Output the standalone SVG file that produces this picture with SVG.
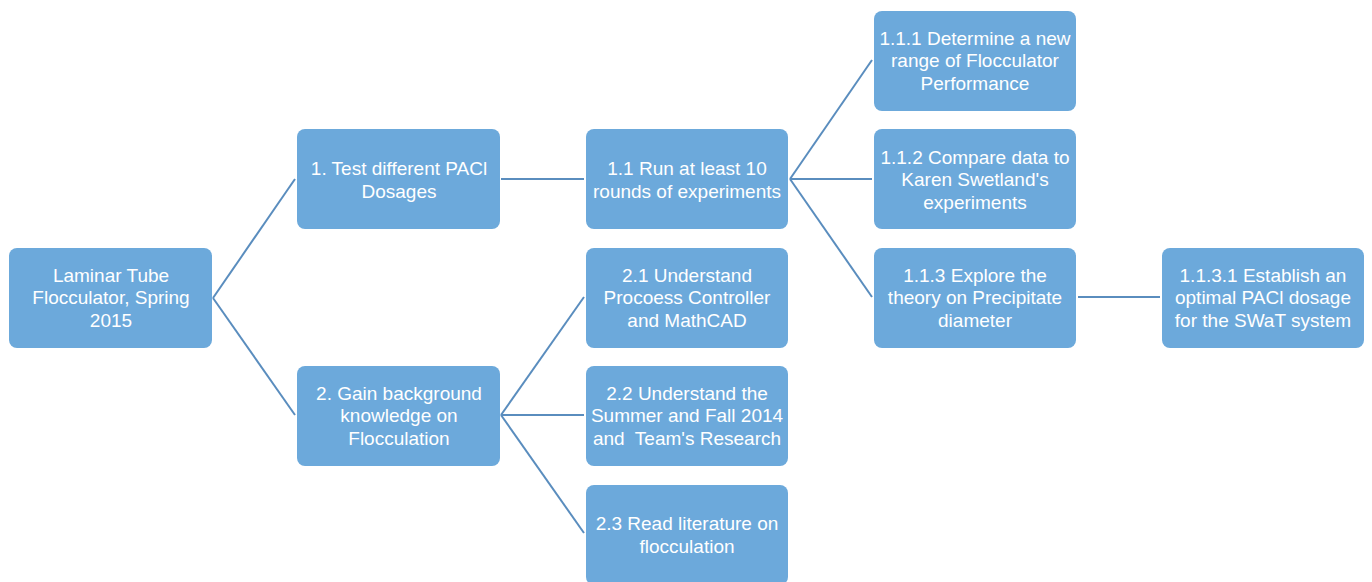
<svg xmlns="http://www.w3.org/2000/svg" width="1372" height="582" viewBox="0 0 1372 582">
<style>
.box{fill:#6CA9DB;}
.t{font-family:"Liberation Sans",Arial,sans-serif;font-size:19px;fill:#FFFFFF;text-anchor:middle;white-space:pre;}
.c{stroke:#5A8DBE;stroke-width:2;fill:none;}
</style>
<rect width="1372" height="582" fill="#FFFFFF"/>
<g id="connectors">
<path class="c" d="M213,298 L295,179"/>
<path class="c" d="M213,298 L295,415"/>
<path class="c" d="M501,179 L584,179"/>
<path class="c" d="M790,179 L872,60"/>
<path class="c" d="M790,179 L872,179"/>
<path class="c" d="M790,179 L872,297"/>
<path class="c" d="M501,415 L584,297"/>
<path class="c" d="M501,415 L584,415"/>
<path class="c" d="M501,415 L584,533"/>
<path class="c" d="M1078,297 L1160,297"/>
</g>
<g id="n-root"><rect class="box" x="9" y="248" width="203" height="100" rx="8"/>
<text class="t" x="111" y="282">Laminar Tube</text><text class="t" x="111" y="304">Flocculator, Spring</text><text class="t" x="111" y="327">2015</text></g>
<g id="n-1"><rect class="box" x="297" y="129" width="203" height="100" rx="8"/>
<text class="t" x="399" y="175">1. Test different PACl</text><text class="t" x="399" y="198">Dosages</text></g>
<g id="n-2"><rect class="box" x="297" y="366" width="203" height="100" rx="8"/>
<text class="t" x="399" y="400">2. Gain background</text><text class="t" x="399" y="422">knowledge on</text><text class="t" x="399" y="445">Flocculation</text></g>
<g id="n-1-1"><rect class="box" x="586" y="129" width="202" height="100" rx="8"/>
<text class="t" x="687" y="175">1.1 Run at least 10</text><text class="t" x="687" y="198">rounds of experiments</text></g>
<g id="n-2-1"><rect class="box" x="586" y="248" width="202" height="100" rx="8"/>
<text class="t" x="687" y="282">2.1 Understand</text><text class="t" x="687" y="304">Procoess Controller</text><text class="t" x="687" y="327">and MathCAD</text></g>
<g id="n-2-2"><rect class="box" x="586" y="366" width="202" height="100" rx="8"/>
<text class="t" x="687" y="400">2.2 Understand the</text><text class="t" x="687" y="422">Summer and Fall 2014</text><text class="t" x="687" y="445">and  Team's Research</text></g>
<g id="n-2-3"><rect class="box" x="586" y="485" width="202" height="100" rx="8"/>
<text class="t" x="687" y="530">2.3 Read literature on</text><text class="t" x="687" y="553">flocculation</text></g>
<g id="n-1-1-1"><rect class="box" x="874" y="11" width="202" height="100" rx="8"/>
<text class="t" x="975" y="45">1.1.1 Determine a new</text><text class="t" x="975" y="67">range of Flocculator</text><text class="t" x="975" y="90">Performance</text></g>
<g id="n-1-1-2"><rect class="box" x="874" y="129" width="202" height="100" rx="8"/>
<text class="t" x="975" y="164">1.1.2 Compare data to</text><text class="t" x="975" y="186">Karen Swetland's</text><text class="t" x="975" y="209">experiments</text></g>
<g id="n-1-1-3"><rect class="box" x="874" y="248" width="202" height="100" rx="8"/>
<text class="t" x="975" y="282">1.1.3 Explore the</text><text class="t" x="975" y="304">theory on Precipitate</text><text class="t" x="975" y="327">diameter</text></g>
<g id="n-1-1-3-1"><rect class="box" x="1162" y="248" width="202" height="100" rx="8"/>
<text class="t" x="1263" y="282">1.1.3.1 Establish an</text><text class="t" x="1263" y="304">optimal PACl dosage</text><text class="t" x="1263" y="327">for the SWaT system</text></g>
</svg>
